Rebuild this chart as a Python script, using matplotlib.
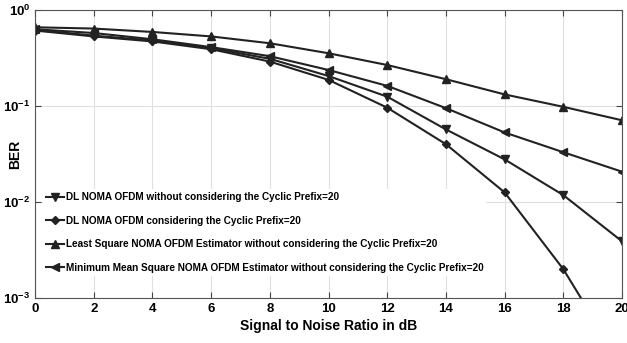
import numpy as np
import matplotlib.pyplot as plt

plt.rcParams['font.family'] = ['Liberation Sans', 'DejaVu Sans']
plt.rcParams['font.weight'] = 'bold'
plt.rcParams['mathtext.default'] = 'bf'
plt.rcParams['axes.unicode_minus'] = False

snr = [0, 2, 4, 6, 8, 10, 12, 14, 16, 18, 20]

# BER
ber_dl_no_cp = [0.62, 0.54, 0.48, 0.40, 0.31, 0.205, 0.125, 0.057, 0.0278, 0.0118, 0.0039]
ber_dl_cp = [0.61, 0.53, 0.47, 0.39, 0.29, 0.187, 0.096, 0.040, 0.0126, 0.0020, 0.0002]
ber_ls = [0.66, 0.64, 0.59, 0.53, 0.45, 0.354, 0.267, 0.19, 0.132, 0.098, 0.071]
ber_mmse = [0.63, 0.575, 0.495, 0.41, 0.33, 0.237, 0.162, 0.095, 0.053, 0.033, 0.0207]

labels = [
    'DL NOMA OFDM without considering the Cyclic Prefix=20',
    'DL NOMA OFDM considering the Cyclic Prefix=20',
    'Least Square NOMA OFDM Estimator without considering the Cyclic Prefix=20',
    'Minimum Mean Square NOMA OFDM Estimator without considering the Cyclic Prefix=20',
]

fig = plt.figure(figsize=(6.27, 3.43), dpi=100)
ax = fig.add_axes([0.056, 0.131, 0.936, 0.84])
ax.set_axisbelow(True)

c = '#222222'
ax.semilogy(snr, ber_dl_no_cp, '-v', color=c, lw=1.5, ms=6, label=labels[0])
ax.semilogy(snr, ber_dl_cp, '-D', color=c, lw=1.5, ms=4.5, label=labels[1])
ax.semilogy(snr, ber_ls, '-^', color=c, lw=1.5, ms=6, label=labels[2])
ax.semilogy(snr, ber_mmse, '-<', color=c, lw=1.5, ms=6, label=labels[3])

ax.set_xlim(0, 20)
ax.set_ylim(1e-3, 1)
ax.set_xticks(snr)
ax.set_yticks([1e-3, 1e-2, 1e-1, 1])
ax.yaxis.set_minor_locator(plt.NullLocator())
ax.grid(True, color='#e0e0e0', lw=0.8)
ax.tick_params(direction='in', top=True, right=True, labelsize=9.5, length=4, color='#444444')
for s in ax.spines.values():
    s.set_color('#555555')

ax.set_xlabel('Signal to Noise Ratio in dB', fontsize=10, fontweight='bold', labelpad=3)
ax.set_ylabel('BER', fontsize=10, fontweight='bold')
ax.yaxis.set_label_coords(-0.022, 0.5)

leg = ax.legend(loc='lower left', bbox_to_anchor=(0.005, 0.06), frameon=True, fontsize=7.2,
                handlelength=1.8, handletextpad=0.15, labelspacing=1.35, borderpad=0.3)
leg.get_frame().set_edgecolor('none')
leg.get_frame().set_facecolor('white')
leg.get_frame().set_alpha(1)
leg.set_zorder(1)

fig.savefig('out.png', dpi=100)
